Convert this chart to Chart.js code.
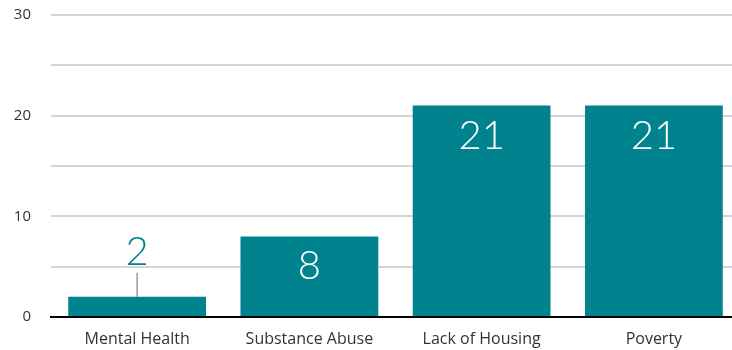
<!DOCTYPE html>
<html>
<head>
<meta charset="utf-8">
<script src="https://cdn.jsdelivr.net/npm/chart.js@4/dist/chart.umd.min.js"></script>
<style>
  html, body { margin: 0; padding: 0; background: #fff; overflow: hidden; }
  #wrap { width: 740px; height: 350px; }
</style>
</head>
<body>
<div id="wrap"><canvas id="myChart" width="740" height="350"></canvas></div>
<script>
const categories = ['Mental Health', 'Substance Abuse', 'Lack of Housing', 'Poverty'];
const values = [2, 8, 21, 21];
const yLabelTicks = [0, 10, 20, 30];

const teal = '#00838f';
const fontFamily = 'Lato, "Open Sans", sans-serif';
const tickFont = '"Open Sans", Lato, sans-serif';

// value labels: inside the bar when it is tall enough, else above with a leader line
const barLabels = {
  id: 'barLabels',
  afterDatasetsDraw(chart) {
    const ctx = chart.ctx;
    const meta = chart.getDatasetMeta(0);
    ctx.save();
    ctx.font = '300 40px ' + fontFamily;
    ctx.textAlign = 'center';
    ctx.textBaseline = 'middle';
    meta.data.forEach((bar, i) => {
      const h = bar.base - bar.y;
      const txt = String(values[i]);
      if (h > 45) {
        ctx.fillStyle = '#fff';
        ctx.fillText(txt, bar.x, bar.y + 30);
      } else {
        ctx.strokeStyle = '#9a9a9a';
        ctx.lineWidth = 1.5;
        ctx.beginPath();
        ctx.moveTo(bar.x, bar.y);
        ctx.lineTo(bar.x, bar.y - 24);
        ctx.stroke();
        ctx.fillStyle = teal;
        ctx.fillText(txt, bar.x, bar.y - 45);
      }
    });
    ctx.restore();
  }
};

var ctx = document.getElementById('myChart').getContext('2d');
var myBarChart = new Chart(ctx, {
  type: 'bar',
  data: {
    labels: categories,
    datasets: [{
      data: values,
      backgroundColor: teal,
      barPercentage: 0.8,
      categoryPercentage: 1.0
    }]
  },
  options: {
    responsive: false,
    animation: false,
    layout: { padding: { top: 15, right: 0, bottom: 0, left: 0 } },
    plugins: {
      legend: { display: false },
      tooltip: { enabled: false }
    },
    scales: {
      x: {
        grid: { display: false },
        border: { display: true, color: '#000', width: 2 },
        ticks: {
          color: '#333',
          font: { family: tickFont, size: 16 },
          padding: 5
        },
        afterFit(scale) { scale.height = 33; scale.paddingLeft = 0; scale.paddingRight = 0; }
      },
      y: {
        min: 0,
        max: 30,
        grid: { color: '#d4d4d4', lineWidth: 2, drawTicks: false },
        border: { display: false },
        ticks: {
          stepSize: 5,
          color: '#333',
          font: { family: tickFont, size: 15 },
          padding: 20,
          callback: (v) => yLabelTicks.includes(v) ? String(v) : ''
        },
        afterFit(scale) { scale.width = 51; scale.paddingTop = 0; scale.paddingBottom = 0; }
      }
    }
  },
  plugins: [barLabels]
});
</script>
</body>
</html>
